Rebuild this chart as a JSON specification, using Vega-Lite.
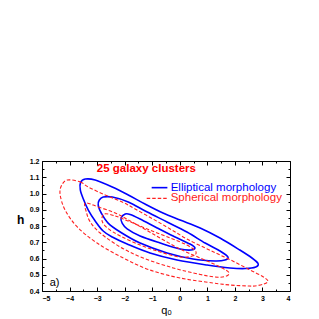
{
  "$schema": "https://vega.github.io/schema/vega-lite/v6.json",
  "width": 248,
  "height": 130,
  "autosize": "none",
  "padding": {"left": 42, "top": 161, "right": 29, "bottom": 28},
  "config": {"view": {"stroke": "#000000", "strokeWidth": 1}, "font": "Liberation Sans"},
  "datasets": {
    "contours": [
      {"c":"E3","t":"E","i":0,"q":-3.43,"h":1.089},{"c":"E3","t":"E","i":1,"q":-3.07,"h":1.083},{"c":"E3","t":"E","i":2,"q":-2.45,"h":1.040},{"c":"E3","t":"E","i":3,"q":-1.87,"h":0.991},{"c":"E3","t":"E","i":4,"q":-1.26,"h":0.935},{"c":"E3","t":"E","i":5,"q":-0.61,"h":0.880},{"c":"E3","t":"E","i":6,"q":0.01,"h":0.837},{"c":"E3","t":"E","i":7,"q":0.74,"h":0.788},{"c":"E3","t":"E","i":8,"q":1.46,"h":0.726},{"c":"E3","t":"E","i":9,"q":2.18,"h":0.652},{"c":"E3","t":"E","i":10,"q":2.62,"h":0.603},{"c":"E3","t":"E","i":11,"q":2.84,"h":0.569},{"c":"E3","t":"E","i":12,"q":2.76,"h":0.548},{"c":"E3","t":"E","i":13,"q":2.37,"h":0.538},{"c":"E3","t":"E","i":14,"q":1.82,"h":0.542},{"c":"E3","t":"E","i":15,"q":0.99,"h":0.560},{"c":"E3","t":"E","i":16,"q":-0.10,"h":0.591},{"c":"E3","t":"E","i":17,"q":-1.08,"h":0.634},{"c":"E3","t":"E","i":18,"q":-1.91,"h":0.689},{"c":"E3","t":"E","i":19,"q":-2.45,"h":0.732},{"c":"E3","t":"E","i":20,"q":-2.78,"h":0.769},{"c":"E3","t":"E","i":21,"q":-3.07,"h":0.831},{"c":"E3","t":"E","i":22,"q":-3.32,"h":0.898},{"c":"E3","t":"E","i":23,"q":-3.50,"h":0.966},{"c":"E3","t":"E","i":24,"q":-3.61,"h":1.022},{"c":"E3","t":"E","i":25,"q":-3.60,"h":1.068},
      {"c":"E2","t":"E","i":0,"q":-2.78,"h":0.978},{"c":"E2","t":"E","i":1,"q":-2.45,"h":0.978},{"c":"E2","t":"E","i":2,"q":-1.87,"h":0.948},{"c":"E2","t":"E","i":3,"q":-1.18,"h":0.886},{"c":"E2","t":"E","i":4,"q":-0.46,"h":0.825},{"c":"E2","t":"E","i":5,"q":0.26,"h":0.763},{"c":"E2","t":"E","i":6,"q":0.92,"h":0.695},{"c":"E2","t":"E","i":7,"q":1.46,"h":0.646},{"c":"E2","t":"E","i":8,"q":1.75,"h":0.609},{"c":"E2","t":"E","i":9,"q":1.64,"h":0.591},{"c":"E2","t":"E","i":10,"q":1.28,"h":0.585},{"c":"E2","t":"E","i":11,"q":0.48,"h":0.597},{"c":"E2","t":"E","i":12,"q":-0.46,"h":0.634},{"c":"E2","t":"E","i":13,"q":-1.44,"h":0.695},{"c":"E2","t":"E","i":14,"q":-2.16,"h":0.763},{"c":"E2","t":"E","i":15,"q":-2.60,"h":0.818},{"c":"E2","t":"E","i":16,"q":-2.85,"h":0.880},{"c":"E2","t":"E","i":17,"q":-2.96,"h":0.929},{"c":"E2","t":"E","i":18,"q":-2.92,"h":0.960},
      {"c":"E1","t":"E","i":0,"q":-1.98,"h":0.874},{"c":"E1","t":"E","i":1,"q":-1.80,"h":0.871},{"c":"E1","t":"E","i":2,"q":-1.44,"h":0.843},{"c":"E1","t":"E","i":3,"q":-0.82,"h":0.788},{"c":"E1","t":"E","i":4,"q":-0.24,"h":0.738},{"c":"E1","t":"E","i":5,"q":0.37,"h":0.689},{"c":"E1","t":"E","i":6,"q":0.55,"h":0.665},{"c":"E1","t":"E","i":7,"q":0.41,"h":0.652},{"c":"E1","t":"E","i":8,"q":0.01,"h":0.658},{"c":"E1","t":"E","i":9,"q":-0.71,"h":0.695},{"c":"E1","t":"E","i":10,"q":-1.44,"h":0.738},{"c":"E1","t":"E","i":11,"q":-1.91,"h":0.782},{"c":"E1","t":"E","i":12,"q":-2.09,"h":0.818},{"c":"E1","t":"E","i":13,"q":-2.13,"h":0.849},
      {"c":"S3","t":"S","i":0,"q":-4.08,"h":1.083},{"c":"S3","t":"S","i":1,"q":-3.61,"h":1.071},{"c":"S3","t":"S","i":2,"q":-3.32,"h":1.040},{"c":"S3","t":"S","i":3,"q":-2.71,"h":0.991},{"c":"S3","t":"S","i":4,"q":-2.09,"h":0.948},{"c":"S3","t":"S","i":5,"q":-1.62,"h":0.905},{"c":"S3","t":"S","i":6,"q":-0.97,"h":0.843},{"c":"S3","t":"S","i":7,"q":-0.35,"h":0.782},{"c":"S3","t":"S","i":8,"q":0.26,"h":0.720},{"c":"S3","t":"S","i":9,"q":0.92,"h":0.665},{"c":"S3","t":"S","i":10,"q":1.46,"h":0.622},{"c":"S3","t":"S","i":11,"q":2.00,"h":0.578},{"c":"S3","t":"S","i":12,"q":2.55,"h":0.529},{"c":"S3","t":"S","i":13,"q":2.98,"h":0.492},{"c":"S3","t":"S","i":14,"q":3.20,"h":0.462},{"c":"S3","t":"S","i":15,"q":3.05,"h":0.443},{"c":"S3","t":"S","i":16,"q":2.73,"h":0.431},{"c":"S3","t":"S","i":17,"q":2.44,"h":0.431},{"c":"S3","t":"S","i":18,"q":1.82,"h":0.437},{"c":"S3","t":"S","i":19,"q":1.21,"h":0.449},{"c":"S3","t":"S","i":20,"q":0.01,"h":0.480},{"c":"S3","t":"S","i":21,"q":-1.08,"h":0.529},{"c":"S3","t":"S","i":22,"q":-2.05,"h":0.603},{"c":"S3","t":"S","i":23,"q":-3.00,"h":0.695},{"c":"S3","t":"S","i":24,"q":-3.72,"h":0.794},{"c":"S3","t":"S","i":25,"q":-4.16,"h":0.898},{"c":"S3","t":"S","i":26,"q":-4.34,"h":0.991},{"c":"S3","t":"S","i":27,"q":-4.30,"h":1.046},
      {"c":"S2","t":"S","i":0,"q":-3.43,"h":0.942},{"c":"S2","t":"S","i":1,"q":-2.96,"h":0.917},{"c":"S2","t":"S","i":2,"q":-2.34,"h":0.880},{"c":"S2","t":"S","i":3,"q":-1.80,"h":0.831},{"c":"S2","t":"S","i":4,"q":-0.97,"h":0.751},{"c":"S2","t":"S","i":5,"q":0.01,"h":0.658},{"c":"S2","t":"S","i":6,"q":0.99,"h":0.585},{"c":"S2","t":"S","i":7,"q":1.53,"h":0.542},{"c":"S2","t":"S","i":8,"q":1.79,"h":0.511},{"c":"S2","t":"S","i":9,"q":1.64,"h":0.489},{"c":"S2","t":"S","i":10,"q":1.28,"h":0.486},{"c":"S2","t":"S","i":11,"q":0.74,"h":0.502},{"c":"S2","t":"S","i":12,"q":-0.24,"h":0.542},{"c":"S2","t":"S","i":13,"q":-1.33,"h":0.603},{"c":"S2","t":"S","i":14,"q":-2.16,"h":0.671},{"c":"S2","t":"S","i":15,"q":-2.89,"h":0.757},{"c":"S2","t":"S","i":16,"q":-3.25,"h":0.825},{"c":"S2","t":"S","i":17,"q":-3.39,"h":0.886},
      {"c":"S1","t":"S","i":0,"q":-2.74,"h":0.874},{"c":"S1","t":"S","i":1,"q":-2.34,"h":0.862},{"c":"S1","t":"S","i":2,"q":-1.80,"h":0.825},{"c":"S1","t":"S","i":3,"q":-1.08,"h":0.775},{"c":"S1","t":"S","i":4,"q":-0.35,"h":0.726},{"c":"S1","t":"S","i":5,"q":0.26,"h":0.683},{"c":"S1","t":"S","i":6,"q":0.59,"h":0.640},{"c":"S1","t":"S","i":7,"q":0.45,"h":0.615},{"c":"S1","t":"S","i":8,"q":0.01,"h":0.609},{"c":"S1","t":"S","i":9,"q":-0.71,"h":0.640},{"c":"S1","t":"S","i":10,"q":-1.44,"h":0.683},{"c":"S1","t":"S","i":11,"q":-2.16,"h":0.738},{"c":"S1","t":"S","i":12,"q":-2.63,"h":0.788},{"c":"S1","t":"S","i":13,"q":-2.82,"h":0.831}
    ],
    "legendLines": [
      {"t":"E","q":-1.02,"q2":-0.45,"h":1.036},
      {"t":"S","q":-1.20,"q2":-0.47,"h":0.970}
    ],
    "labels": [
      {"t":"E","label":"Elliptical morphology","q":-0.33,"h":1.036},
      {"t":"S","label":"Spherical morphology","q":-0.33,"h":0.970},
      {"t":"T","label":"25 galaxy clusters","q":-3.01,"h":1.149},
      {"t":"A","label":"a)","q":-4.72,"h":0.451}
    ]
  },
  "resolve": {"axis": {"x": "independent", "y": "independent"}},
  "layer": [
    {
      "data": {"name": "contours"},
      "transform": [{"filter": "datum.t === 'E'"}],
      "mark": {"type": "line", "interpolate": "cardinal-closed", "color": "#0000ff", "strokeWidth": 1.6},
      "encoding": {
        "x": {"field": "q", "type": "quantitative", "scale": {"domain": [-5, 4], "nice": false, "zero": false},
              "axis": {"orient": "bottom", "values": [-5,-4,-3,-2,-1,0,1,2,3,4], "grid": false, "domain": false, "tickColor": "#000", "tickSize": -4, "labelPadding": 7, "labelFontSize": 7, "labelFontWeight": "bold", "labelColor": "#000", "labelFont": "Liberation Sans", "title": "qₒ", "titleFontSize": 11, "titleFontWeight": "normal", "titleColor": "#000", "titlePadding": 3, "titleFont": "Liberation Sans"}},
        "y": {"field": "h", "type": "quantitative", "scale": {"domain": [0.4, 1.2], "nice": false, "zero": false},
              "axis": {"orient": "left", "values": [0.4,0.5,0.6,0.7,0.8,0.9,1.0,1.1,1.2], "format": ".1f", "grid": false, "domain": false, "tickColor": "#000", "tickSize": -4, "labelPadding": 7, "labelFontSize": 7, "labelFontWeight": "bold", "labelColor": "#000", "labelFont": "Liberation Sans", "title": "h", "titleAngle": 0, "titleFontSize": 12, "titleFontWeight": "bold", "titleColor": "#000", "titlePadding": 9, "titleFont": "Liberation Sans"}},
        "detail": {"field": "c"},
        "order": {"field": "i", "type": "quantitative"}
      }
    },
    {
      "data": {"name": "contours"},
      "transform": [{"filter": "datum.t === 'S'"}],
      "mark": {"type": "line", "interpolate": "cardinal-closed", "color": "#ff2020", "strokeWidth": 1.1, "strokeDash": [3.5, 2]},
      "encoding": {
        "x": {"field": "q", "type": "quantitative", "axis": {"orient": "top", "values": [-5,-4,-3,-2,-1,0,1,2,3,4], "grid": false, "domain": false, "labels": false, "title": null, "tickColor": "#000", "tickSize": -4}},
        "y": {"field": "h", "type": "quantitative", "axis": {"orient": "right", "values": [0.4,0.5,0.6,0.7,0.8,0.9,1.0,1.1,1.2], "grid": false, "domain": false, "labels": false, "title": null, "tickColor": "#000", "tickSize": -4}},
        "detail": {"field": "c"},
        "order": {"field": "i", "type": "quantitative"}
      }
    },
    {
      "data": {"name": "contours"},
      "mark": {"type": "point", "opacity": 0},
      "encoding": {
        "x": {"field": "q", "type": "quantitative", "axis": {"orient": "bottom", "values": [-4.5,-3.5,-2.5,-1.5,-0.5,0.5,1.5,2.5,3.5], "grid": false, "domain": false, "labels": false, "title": null, "tickColor": "#000", "tickSize": -2}},
        "y": {"field": "h", "type": "quantitative", "axis": {"orient": "left", "values": [0.45,0.55,0.65,0.75,0.85,0.95,1.05,1.15], "grid": false, "domain": false, "labels": false, "title": null, "tickColor": "#000", "tickSize": -2}}
      }
    },
    {
      "data": {"name": "contours"},
      "mark": {"type": "point", "opacity": 0},
      "encoding": {
        "x": {"field": "q", "type": "quantitative", "axis": {"orient": "top", "values": [-4.5,-3.5,-2.5,-1.5,-0.5,0.5,1.5,2.5,3.5], "grid": false, "domain": false, "labels": false, "title": null, "tickColor": "#000", "tickSize": -2}},
        "y": {"field": "h", "type": "quantitative", "axis": {"orient": "right", "values": [0.45,0.55,0.65,0.75,0.85,0.95,1.05,1.15], "grid": false, "domain": false, "labels": false, "title": null, "tickColor": "#000", "tickSize": -2}}
      }
    },
    {
      "data": {"name": "legendLines"},
      "transform": [{"filter": "datum.t === 'E'"}],
      "mark": {"type": "rule", "color": "#0000ff", "strokeWidth": 1.6},
      "encoding": {
        "x": {"field": "q", "type": "quantitative", "axis": null},
        "x2": {"field": "q2"},
        "y": {"field": "h", "type": "quantitative", "axis": null}
      }
    },
    {
      "data": {"name": "legendLines"},
      "transform": [{"filter": "datum.t === 'S'"}],
      "mark": {"type": "rule", "color": "#ff2020", "strokeWidth": 1.1, "strokeDash": [3.5, 2]},
      "encoding": {
        "x": {"field": "q", "type": "quantitative", "axis": null},
        "x2": {"field": "q2"},
        "y": {"field": "h", "type": "quantitative", "axis": null}
      }
    },
    {
      "data": {"name": "labels"},
      "transform": [{"filter": "datum.t === 'E'"}],
      "mark": {"type": "text", "align": "left", "baseline": "middle", "color": "#0000ff", "fontSize": 11.5, "font": "Liberation Sans"},
      "encoding": {
        "x": {"field": "q", "type": "quantitative", "axis": null},
        "y": {"field": "h", "type": "quantitative", "axis": null},
        "text": {"field": "label"}
      }
    },
    {
      "data": {"name": "labels"},
      "transform": [{"filter": "datum.t === 'S'"}],
      "mark": {"type": "text", "align": "left", "baseline": "middle", "color": "#ff2020", "fontSize": 11.5, "font": "Liberation Sans"},
      "encoding": {
        "x": {"field": "q", "type": "quantitative", "axis": null},
        "y": {"field": "h", "type": "quantitative", "axis": null},
        "text": {"field": "label"}
      }
    },
    {
      "data": {"name": "labels"},
      "transform": [{"filter": "datum.t === 'T'"}],
      "mark": {"type": "text", "align": "left", "baseline": "middle", "color": "#ff0000", "fontSize": 11.5, "fontWeight": "bold", "font": "Liberation Sans"},
      "encoding": {
        "x": {"field": "q", "type": "quantitative", "axis": null},
        "y": {"field": "h", "type": "quantitative", "axis": null},
        "text": {"field": "label"}
      }
    },
    {
      "data": {"name": "labels"},
      "transform": [{"filter": "datum.t === 'A'"}],
      "mark": {"type": "text", "align": "left", "baseline": "middle", "color": "#000000", "fontSize": 11, "font": "Liberation Sans"},
      "encoding": {
        "x": {"field": "q", "type": "quantitative", "axis": null},
        "y": {"field": "h", "type": "quantitative", "axis": null},
        "text": {"field": "label"}
      }
    }
  ]
}
